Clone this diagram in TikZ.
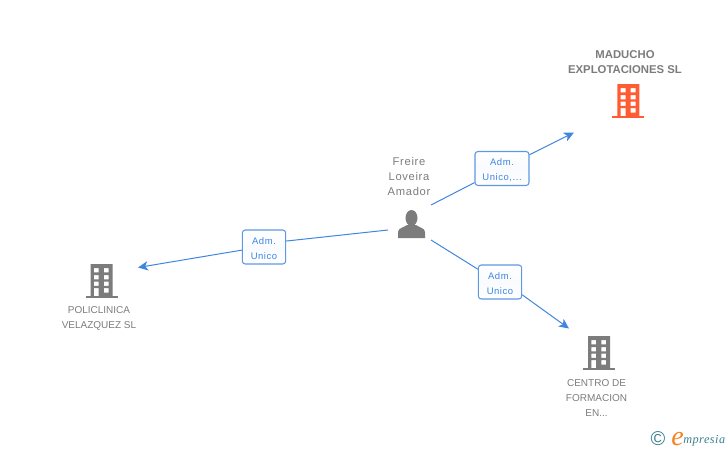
\documentclass[tikz,border=0pt]{standalone}
\usepackage{fontspec}
\setmainfont{Liberation Sans}
\newfontfamily\spaced[LetterSpace=6]{Liberation Sans}
\newfontfamily\logofont[LetterSpace=4]{Liberation Serif}
\usepackage{tikz}
\usetikzlibrary{arrows.meta}
\definecolor{linkblue}{HTML}{3F86E0}
\definecolor{boxblue}{HTML}{5E98E2}
\definecolor{labelgray}{HTML}{7C7C7C}
\definecolor{iconorange}{HTML}{FF5C33}
\definecolor{logoteal}{HTML}{3B8092}
\definecolor{logoorange}{HTML}{F5821F}
\newcommand{\admlift}{\rule{0pt}{7.5pt}}
\tikzset{
company/.style={text=labelgray,align=center,font=\fontsize{7.5}{11.25}\selectfont},
person/.style={text=labelgray,align=center,font=\spaced\fontsize{8.4}{11.25}\selectfont},
admbox/.style={draw=boxblue,line width=0.8pt,rounded corners=2.2pt,top color=white,bottom color=white,middle color=white!96!boxblue,
  minimum width=32.5pt,minimum height=25.5pt,inner sep=0pt,text=linkblue,align=center,font=\spaced\fontsize{7.1}{11.25}\selectfont},
link/.style={draw=linkblue,line width=0.75pt},
linkend/.style={link,-{Stealth[length=7.5pt,width=7pt,inset=2pt]}},
pics/building/.style={code={
\fill[#1,even odd rule] (-11,-34) rectangle (11,-2)
 (-7.6,-30) rectangle (-2.8,-25.7) (2.4,-30) rectangle (7.2,-25.7)
 (-7.6,-23) rectangle (-2.8,-18.7) (2.4,-23) rectangle (7.2,-18.7)
 (-7.6,-16.3) rectangle (-2.8,-12.2) (2.4,-16.3) rectangle (7.2,-12.2)
 (-7.6,-9.8) rectangle (-2.8,-2) (2.4,-9.8) rectangle (7.2,-5.5);
\fill[#1] (-16,-2) rectangle (16,0);
}}
}
\begin{document}
\begin{tikzpicture}[x=0.75pt,y=-0.75pt]
\useasboundingbox (0,0) rectangle (728,450);
\coordinate (topstart) at (431,205);
\coordinate (topend) at (574,132.5);
\coordinate (leftstart) at (388,230);
\coordinate (leftend) at (138,267.5);
\coordinate (rightstart) at (431,240);
\coordinate (rightend) at (569,328.5);
\node[admbox,minimum width=40.5pt] (admt) at (502,168.5) {\admlift Adm.\\Unico,...};
\node[admbox] (adml) at (264,247) {\admlift Adm.\\Unico};
\node[admbox] (admr) at (500,282) {\admlift Adm.\\Unico};
\draw[link] (topstart)--(admt);
\draw[linkend] (admt)--(topend);
\draw[link] (leftstart)--(adml.15);
\draw[linkend] (adml.188)--(leftend);
\draw[link] (rightstart)--(admr.150);
\draw[linkend] (admr.-30)--(rightend);
% people and companies
\node[person] (freire) at (409,176.5) {Freire\\Loveira\\Amador};
\fill[labelgray] (411.5,218) ellipse (6 and 8);
\fill[labelgray] (398,238) -- (398,232) .. controls (398,228) and (404,227.5) .. (407,225) -- (416,225) .. controls (419,227.5) and (425,228) .. (425,232) -- (425,238) -- cycle;
\pic (maducho) at (628.3,118) {building=iconorange};
\pic (policlinica) at (101.5,298) {building=labelgray};
\pic (centro) at (599,370) {building=labelgray};
\node[company,font=\bfseries\fontsize{8.5}{11.25}\selectfont] (madname) at (625,62.5) {MADUCHO\\EXPLOTACIONES SL};
\node[company] (polname) at (99,318.5) {POLICLINICA\\VELAZQUEZ SL};
\node[company] (cenname) at (596.5,398.5) {CENTRO DE\\FORMACION\\EN...};
% logo
\node[text=logoteal,inner sep=0pt,font=\fontsize{15}{15}\selectfont] (copyr) at (658,439) {\textcopyright};
\node[text=logoorange,inner sep=0pt,anchor=base,font=\logofont\itshape\fontsize{21}{21}\selectfont] (logoe) at (677.5,445.5) {e};
\node[text=logoteal,inner sep=0pt,anchor=base west,font=\logofont\itshape\fontsize{9.2}{9.2}\selectfont] (logotext) at (683,443) {mpresia};
\end{tikzpicture}
\end{document}
